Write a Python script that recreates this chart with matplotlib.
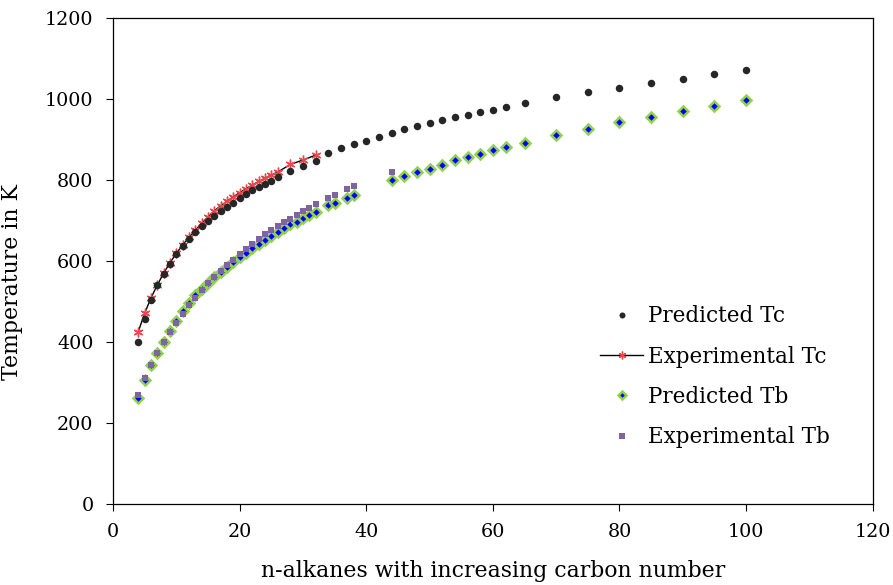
import matplotlib
matplotlib.use("Agg")
import matplotlib.pyplot as plt

# carbon numbers and temperatures (K)
pred_tc_n = [4, 5, 6, 7, 8, 9, 10, 11, 12, 13, 14, 15, 16, 17, 18, 19, 20, 21, 22, 23, 24, 25, 26,
             28, 30, 32, 34, 36, 38, 40, 42, 44, 46, 48, 50, 52, 54, 56, 58, 60, 62,
             65, 70, 75, 80, 85, 90, 95, 100]
pred_tc = [400, 456, 503, 539, 568, 593, 616, 637, 654, 670, 686, 698, 711, 724, 734, 744, 754, 764,
           774, 782, 790, 798, 806, 823, 834, 847, 866, 879, 889, 897, 906, 917, 925, 932, 940,
           948, 955, 960, 968, 973, 981, 989, 1004, 1017, 1027, 1040, 1050, 1061, 1071]

exp_tc_n = [4, 5, 6, 7, 8, 9, 10, 11, 12, 13, 14, 15, 16, 17, 18, 19, 20, 21, 22, 23, 24, 25, 26,
            28, 30, 32]
exp_tc = [425, 470, 508, 540, 569, 595, 618, 639, 658, 675, 693, 708, 723, 736, 747, 758, 768, 778,
          787, 796, 804, 812, 819, 838, 849, 861]

pred_tb_n = [4, 5, 6, 7, 8, 9, 10, 11, 12, 13, 14, 15, 16, 17, 18, 19, 20, 21, 22, 23, 24, 25, 26,
             27, 28, 29, 30, 31, 32, 34, 35, 37, 38, 44, 46, 48, 50, 52, 54, 56, 58, 60, 62,
             65, 70, 75, 80, 85, 90, 95, 100]
pred_tb = [260, 305, 342, 373, 400, 427, 452, 476, 496, 515, 531, 546, 561, 573, 585, 598, 609, 620,
           631, 642, 651, 660, 670, 680, 690, 697, 705, 714, 721, 738, 743, 754, 762, 800, 809,
           819, 827, 837, 848, 856, 864, 874, 881, 892, 910, 925, 943, 955, 971, 983, 997]

exp_tb_n = [4, 5, 6, 7, 8, 9, 10, 11, 12, 13, 14, 15, 16, 17, 18, 19, 20, 21, 22, 23, 24, 25, 26,
            27, 28, 29, 30, 31, 32, 34, 35, 37, 38, 44]
exp_tb = [268, 309, 342, 372, 399, 424, 447, 469, 490, 509, 527, 544, 560, 575, 589, 603, 617, 630,
          642, 653, 665, 675, 685, 695, 704, 713, 722, 730, 740, 754, 763, 777, 785, 819]

plt.rcParams['font.family'] = ['DejaVu Serif']

fig = plt.figure(figsize=(8.93, 5.85), dpi=100)
ax = fig.add_axes([0.1265, 0.1393, 0.8508, 0.8299])

ax.plot(pred_tc_n, pred_tc, 'o', color='#262626', markersize=5.4, markeredgewidth=0,
        label='Predicted Tc', zorder=3)
ax.plot(exp_tc_n, exp_tc, '-', color='black', linewidth=1.0, marker=(6, 2, 0),
        markeredgecolor='#e8474b', markerfacecolor='#e8474b', markersize=7, markeredgewidth=1.0,
        label='Experimental Tc', zorder=2)
ax.plot(pred_tb_n, pred_tb, 'D', color='#0000ff', markeredgecolor='#92d050', markersize=5.6,
        markeredgewidth=1.8, label='Predicted Tb', zorder=3)
ax.plot(exp_tb_n, exp_tb, 's', color='#8064a2', markersize=5, markeredgewidth=0,
        label='Experimental Tb', zorder=4)

ax.set_xlim(0, 120)
ax.set_ylim(0, 1200)
ax.set_xticks(range(0, 121, 20))
ax.set_yticks(range(0, 1201, 200))
ax.tick_params(direction='out', length=5, width=0.8, labelsize=13.8, pad=9)
for s in ax.spines.values():
    s.set_linewidth(0.9)

ax.set_xlabel('n-alkanes with increasing carbon number', fontsize=15.8, labelpad=14)
ax.set_ylabel('Temperature in K', fontsize=15.8, labelpad=12)
ax.yaxis.set_label_coords(-0.118, 0.456)

ax.legend(loc='upper left', bbox_to_anchor=(0.641, 0.408), frameon=False, fontsize=15.5,
          handlelength=2.0, handletextpad=0.25, labelspacing=0.85, markerscale=0.8,
          borderpad=0, borderaxespad=0)

fig.savefig('out.png', dpi=100)
